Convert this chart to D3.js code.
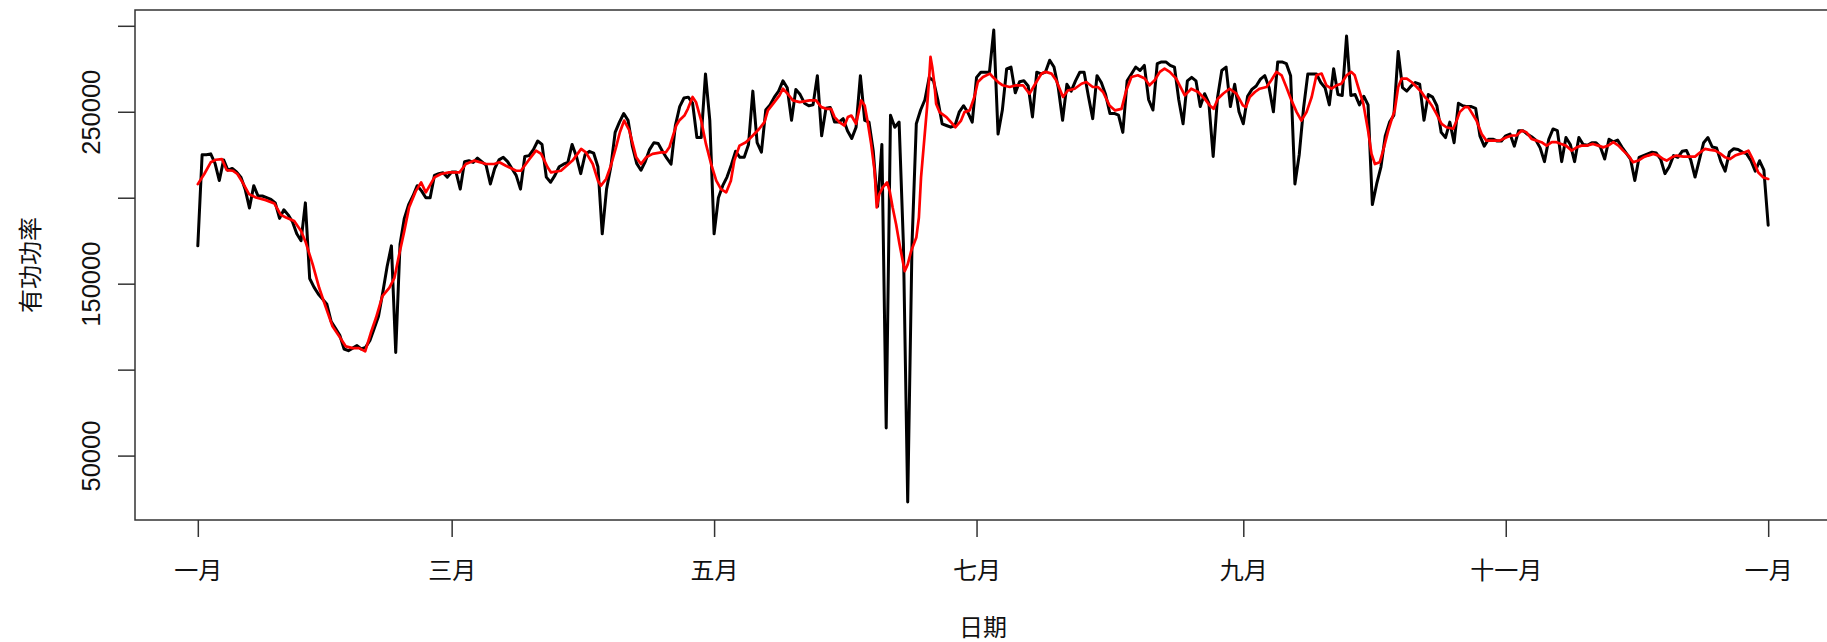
<!DOCTYPE html>
<html>
<head>
<meta charset="utf-8">
<script src="https://cdn.jsdelivr.net/npm/d3@7"></script>
<style>
    body { margin: 0; background: #fff; }
    .axis path.domain { display: none; }
    .axis line { stroke: #333; stroke-width: 1.5; }
    .axis text { fill: #111; }
</style>
</head>
<body>
<svg id="chart"></svg>
<script>
// daily active power, 1 Jan to 1 Jan of the next year
const startDate = Date.UTC(2015, 0, 1);

const dailyPower = [
    172000, 225000, 225000, 225500, 220000, 210000, 222000, 216000, 217000, 215000,
    212000, 205000, 194000, 207000, 201000, 201000, 200000, 199000, 197000, 188000,
    193000, 190000, 186000, 179000, 175000, 197000, 153000, 148000, 144000, 141000,
    138000, 128000, 124000, 120000, 112000, 111000, 112500, 114000, 112000, 113000,
    117000, 124000, 131000, 145000, 160000, 172000, 110000, 173000, 188000, 196000,
    201000, 207000, 204000, 200000, 200000, 213000, 214000, 214500, 212000, 215000,
    215000, 205000, 221000, 221500, 220500, 223000, 221000, 219000, 208000, 217000,
    222000, 223500, 221000, 217000, 213000, 205000, 224000, 224500, 228000, 233000,
    231000, 212000, 209000, 213000, 218000, 219500, 220500, 231000, 224000, 214000,
    225000, 227000, 226000, 218000, 179000, 205000, 218000, 238000, 244000, 249000,
    245000, 230000, 220000, 216000, 221000, 228000, 232000, 231500, 227000, 223000,
    219500, 242000, 253000, 258000, 258500, 255000, 235000, 235000, 272000, 245000,
    179000, 200000, 207000, 212000, 219000, 227000, 223500, 223500, 231000, 262000,
    232000, 226500, 251000, 254000, 258500, 262000, 268000, 264000, 245000, 263000,
    260000, 255000, 253500, 254000, 271000, 236000, 252000, 252500, 244000, 244000,
    246000, 239000, 234500, 241000, 271000, 245000, 244000, 227000, 195000, 231000,
    66000, 248000, 241000, 244000, 173000, 23000, 173000, 243000, 251000, 257000,
    270000, 268000, 257000, 243000, 242000, 241000, 242000, 250000, 253500, 249500,
    244000, 270000, 273000, 273000, 273000, 297500, 237000, 251000, 275000, 276000,
    261000, 267500, 268000, 265000, 247000, 273000, 272000, 273000, 280000, 276000,
    264000, 245000, 266000, 262000, 268000, 273000, 273000, 259000, 246000, 271000,
    267000, 260000, 249000, 249000, 248000, 238000, 268000, 272000, 276000, 274000,
    277000, 257000, 251000, 278000, 279000, 279000, 277000, 276000, 257000, 243000,
    268000, 270000, 268000, 253000, 260500, 255000, 224000, 258000, 274000, 276000,
    253000, 266000, 250000, 243000, 259000, 263000, 265000, 269000, 271000, 264000,
    250000, 279000, 279000, 278000, 271000, 208000, 225000, 252000, 272000, 272000,
    272000, 267000, 264000, 254000, 275000, 260000, 259500, 294000, 259500, 260000,
    254000, 259000, 254000, 196000, 208000, 218000, 236000, 244000, 248000, 285000,
    264000, 262000, 265000, 267000, 266000, 245000, 260000, 258500, 253500, 238000,
    235000, 244000, 232000, 255000, 253500, 253000, 253000, 252000, 236000, 230000,
    234000, 234000, 233000, 233000, 236000, 237000, 230000, 239000, 239000, 237000,
    235500, 233500, 229000, 221000, 234000, 240000, 239000, 221000, 235000, 231000,
    221000, 235000, 231000, 230500, 232000, 232000, 229500, 222500, 234000, 232500,
    233500, 229500, 226000, 222500, 210000, 223500, 224500, 225500, 226500, 226000,
    222500, 214000, 218000, 224500, 223500, 227000, 227500, 222000, 212000, 222000,
    232000, 235000, 229500, 229000, 221000, 215500, 226500, 228500, 228000, 226500,
    225500, 221500, 215500, 221500, 216000, 184000
];

// smoothed (red) curve, read at the day offsets below
const trendDay = [
    0, 1.5, 3, 4.2, 5.6, 6.7, 8.1, 9.2, 10.4, 11.9, 13.5, 15.8, 17.8, 19.3, 20.5, 22.4, 24, 25.1,
    26.7, 28.2, 29.8, 31.3, 32.9, 34.4, 36, 37.5, 38.9, 40.2, 41.4, 42.9, 44.5, 45.7, 46.8, 48,
    49.1, 50.7, 51.9, 53, 55, 56.5, 58.4, 60.8, 62.3, 64.3, 67, 68.9, 70.1, 71.6, 74, 75.1, 77.1,
    78.6, 79.8, 81.3, 82.1, 84.4, 87.1, 89.1, 90.2, 91.8, 93, 93.7, 94.9, 96, 97.2, 98.1, 99.1,
    100.3, 101.9, 103, 104.2, 105.7, 107.7, 108.8, 109.6, 111.2, 111.9, 113.1, 113.9, 115, 115.8,
    117, 118.1, 119.3, 120.5, 121.6, 122.8, 123.9, 124.7, 125.9, 127.4, 129, 130.5, 131.7, 132.5,
    134, 135.2, 136, 137.1, 138.3, 139.9, 142.2, 143.7, 144.9, 146.1, 147.2, 148, 149.1, 150.3,
    151.1, 151.9, 153, 154.2, 155, 155.7, 156.5, 157.3, 157.8, 158.4, 159.2, 160.2, 160.8, 161.5,
    162.3, 163.1, 164.3, 165, 165.8, 167, 167.6, 168.1, 168.9, 169.5, 170, 170.3, 170.7, 171.2,
    171.6, 172.4, 174, 176.1, 177.4, 178.2, 179.4, 180.5, 181.3, 182.5, 184.1, 184.8, 186, 187.1,
    188.7, 190.2, 191.8, 193.3, 194.9, 196.1, 197.1, 198.4, 199.5, 201.1, 202.2, 203.8, 205.4,
    206.5, 208, 209.2, 210.4, 211.9, 213.2, 214.7, 215.8, 217, 218.5, 220.1, 221.2, 222.4, 223.6,
    224.7, 225.9, 227.4, 229.4, 230.9, 232.5, 234, 235.2, 236.1, 237.1, 238.3, 239.8, 241.4,
    242.9, 243.6, 244.5, 245.7, 246.8, 248.4, 249.5, 250.7, 251.9, 253, 254.2, 255.4, 256.5,
    257.7, 258.9, 260, 261.2, 262.3, 263.5, 264.7, 265.8, 267, 268.1, 268.9, 269.7, 270.9, 272,
    272.8, 273.6, 274.7, 275.5, 276.7, 277.4, 278.2, 279, 279.8, 281, 282.1, 283.3, 284.4, 285.2,
    286, 286.8, 287.9, 289.1, 290.2, 291.8, 292.6, 293.3, 294.5, 295.3, 296, 297.2, 298.4, 299.5,
    301.1, 302.6, 304.2, 305.4, 306.5, 307.7, 308.8, 310, 311.2, 312.3, 313.5, 314.7, 315.8,
    316.9, 318, 319.3, 320.5, 321.6, 322.8, 324.3, 325.5, 326.7, 327.8, 329, 330.2, 331.3, 332.5,
    333.6, 334.8, 336, 337.1, 338.3, 339.5, 340.6, 341.4, 342.6, 343.7, 345.3, 346.8, 348, 349.2,
    350.3, 351.5, 352.7, 353.8, 355, 356.1, 357.3, 358.4, 359.6, 360.4, 361.2, 361.9, 362.7,
    363.9, 365
];
const trendPower = [
    207900, 213800, 220600, 222100, 222500, 216100, 215700, 213800, 208900, 202100, 200100, 198600, 196600, 190000, 188500, 186500, 180700, 173900,
    161200, 147600, 135900, 125200, 119300, 113500, 112500, 112500, 110600, 121300, 130000, 142700, 147600, 153400, 167000, 180700,
    194300, 204000, 208900, 203100, 211800, 213800, 214700, 214700, 219600, 221600, 219600, 219600, 220600, 218600, 215700, 215700, 222500,
    227400, 225500, 217700, 214700, 215700, 221600, 228400, 226400, 219600, 209900, 207000, 210900, 218600, 229300, 238100, 244900,
    239100, 223500, 219600, 223500, 225500, 226400, 226400, 229300, 242000, 244900, 247800, 251700, 258600, 255600,
    244900, 231300, 219600, 209900, 205000, 203100, 209900, 221600, 230300, 232300, 236200, 240100, 244000, 250800,
    255600, 259500, 263400, 260500, 256600, 255600, 256600, 256600, 252700, 251700, 251700, 246900, 244000, 242000,
    246900, 247800, 243000, 256600, 253700, 244000, 231300, 215700, 194300, 202100, 206000, 208900, 204000, 194300,
    184600, 172900, 157300, 161200, 169000, 176800, 188500, 211800, 235200, 252700, 270200, 281900, 276100, 266300,
    254700, 249800, 246900, 241000, 244900, 249800, 250800, 258600, 267300, 270200, 272200, 270200, 267300, 265400,
    264400, 265400, 265400, 260500, 267300, 272200, 273200, 272200, 268300, 258600, 262400, 263400, 266300,
    267300, 264400, 264400, 261500, 253700, 250800, 251700, 262400, 270200, 271200, 269300, 265400, 268300, 273200,
    275100, 273200, 269300, 259500, 263400, 261500, 257600, 253700, 251700, 257600, 260500, 263400, 260500,
    253700, 252700, 258600, 261500, 263400, 264400, 268300, 273200, 271200, 264400, 256600, 249800, 244900,
    249800, 258600, 271200, 272200, 265400, 263400, 265400, 266300, 271200, 273200, 271200, 264400, 254700, 239100,
    225500, 219600, 220600, 227400, 239100, 244900, 250800, 264400, 269300, 269300, 267300, 264400, 261500, 258600,
    256600, 253700, 248800, 243000, 241000, 240100, 244900, 249800, 252700, 252700, 249800, 244900, 237100, 233200,
    233200, 233200, 235200, 236200, 236200, 239100, 238100, 234200, 233200, 232300, 230300, 232300, 232300,
    231300, 230300, 227400, 229300, 230300, 230300, 231300, 230300, 229300, 230300, 232300, 230300, 227400, 224500,
    220600, 221600, 223500, 224500, 225500, 224500, 222500, 221600, 223500, 224500, 223900, 223900, 223900, 226400,
    228400, 227800, 227400, 225800, 223500, 222500, 224500, 225500, 226400, 227400, 223500, 219600, 214700,
    211800, 210900
];

const monthTicks = [
    Date.UTC(2015, 0, 1), Date.UTC(2015, 2, 1), Date.UTC(2015, 4, 1), Date.UTC(2015, 6, 1),
    Date.UTC(2015, 8, 1), Date.UTC(2015, 10, 1), Date.UTC(2016, 0, 1)
];
const monthLabels = ['一月', '三月', '五月', '七月', '九月', '十一月', '一月'];

const powerTicks = [50000, 100000, 150000, 200000, 250000, 300000];
const powerLabels = [50000, 150000, 250000];

const dayMs = 24 * 60 * 60 * 1000;

class PowerChart {
    constructor(_config) {
        this.config = {
            parentElement: _config.parentElement,
            containerWidth: 1827,
            containerHeight: 642,
            margin: { top: 10, right: -4, bottom: 122, left: 135 },
            yDomain: [12540, 309190]
        };

        this.initVis();
    }

    initVis() {
        let vis = this;

        vis.width = vis.config.containerWidth - vis.config.margin.left - vis.config.margin.right;
        vis.height = vis.config.containerHeight - vis.config.margin.top - vis.config.margin.bottom;

        vis.svg = d3.select(vis.config.parentElement)
            .attr('width', vis.config.containerWidth)
            .attr('height', vis.config.containerHeight);

        vis.chart = vis.svg.append('g')
            .attr('transform', `translate(${vis.config.margin.left},${vis.config.margin.top})`);

        vis.xScale = d3.scaleUtc().range([0, vis.width]);
        vis.yScale = d3.scaleLinear().range([vis.height, 0]);

        vis.xAxis = d3.axisBottom(vis.xScale)
            .tickValues(monthTicks.map(d => new Date(d)))
            .tickFormat((d, i) => monthLabels[i])
            .tickSize(17)
            .tickSizeOuter(0);

        vis.yAxis = d3.axisLeft(vis.yScale)
            .tickValues(powerTicks)
            .tickFormat(d => powerLabels.includes(d) ? String(d) : '')
            .tickSize(17)
            .tickSizeOuter(0);

        vis.xAxisG = vis.chart.append('g')
            .attr('class', 'axis x-axis')
            .attr('transform', `translate(0,${vis.height})`);

        vis.yAxisG = vis.chart.append('g')
            .attr('class', 'axis y-axis');

        vis.powerPath = vis.chart.append('path')
            .attr('fill', 'none')
            .attr('stroke', '#000')
            .attr('stroke-width', 3)
            .attr('stroke-linejoin', 'round')
            .attr('stroke-linecap', 'round');

        vis.trendPath = vis.chart.append('path')
            .attr('fill', 'none')
            .attr('stroke', '#ff0000')
            .attr('stroke-width', 2.7)
            .attr('stroke-linejoin', 'round')
            .attr('stroke-linecap', 'round');

        // plot box
        vis.chart.append('rect')
            .attr('width', vis.width)
            .attr('height', vis.height)
            .attr('fill', 'none')
            .attr('stroke', '#333')
            .attr('stroke-width', 1.5);

        vis.svg.append('text')
            .attr('transform', `translate(28,${vis.config.margin.top + vis.height / 2}) rotate(-90)`)
            .attr('text-anchor', 'middle')
            .attr('dominant-baseline', 'central')
            .style('font-family', '"Noto Sans CJK SC", sans-serif')
            .style('font-size', '24px')
            .attr('fill', '#111')
            .text('有功功率');

        vis.svg.append('text')
            .attr('x', vis.config.margin.left + vis.width / 2)
            .attr('y', 625)
            .attr('text-anchor', 'middle')
            .attr('dominant-baseline', 'central')
            .style('font-family', '"Noto Sans CJK SC", sans-serif')
            .style('font-size', '24px')
            .attr('fill', '#111')
            .text('日期');

        vis.updateVis();
    }

    updateVis() {
        let vis = this;

        vis.data = dailyPower.map((v, i) => ({ date: new Date(startDate + i * dayMs), value: v }));
        vis.trend = trendDay.map((d, i) => ({ date: new Date(startDate + d * dayMs), value: trendPower[i] }));

        // R style 4% padding on the date range
        const first = vis.data[0].date.getTime();
        const last = vis.data[vis.data.length - 1].date.getTime();
        const pad = (last - first) * 0.04;
        vis.xScale.domain([new Date(first - pad), new Date(last + pad)]);
        vis.yScale.domain(vis.config.yDomain);

        vis.line = d3.line()
            .x(d => vis.xScale(d.date))
            .y(d => vis.yScale(d.value));

        vis.renderVis();
    }

    renderVis() {
        let vis = this;

        vis.powerPath.datum(vis.data).attr('d', vis.line);
        vis.trendPath.datum(vis.trend).attr('d', vis.line);

        vis.xAxisG.call(vis.xAxis);
        vis.xAxisG.selectAll('text')
            .attr('y', 48)
            .attr('dy', null)
            .attr('dominant-baseline', 'central')
            .style('font-family', '"Noto Sans CJK SC", sans-serif')
            .style('font-size', '24px');

        vis.yAxisG.call(vis.yAxis);
        vis.yAxisG.selectAll('text')
            .attr('x', null)
            .attr('dy', null)
            .attr('text-anchor', 'middle')
            .attr('transform', 'translate(-35,0) rotate(-90)')
            .style('font-family', '"Liberation Sans", Arial, sans-serif')
            .style('font-size', '25.5px');
    }
}

new PowerChart({ parentElement: '#chart' });
</script>
</body>
</html>
